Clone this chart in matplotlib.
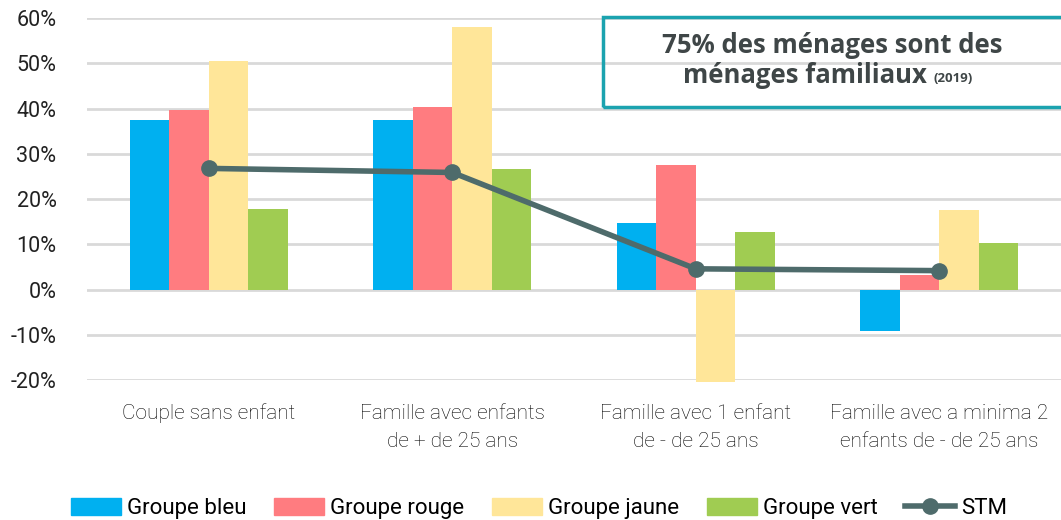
import numpy as np
import matplotlib.pyplot as plt
from matplotlib.patches import Rectangle
from matplotlib.lines import Line2D

# data (%)
categories = ["Couple sans enfant", "Famille avec enfants\nde + de 25 ans",
              "Famille avec 1 enfant\nde - de 25 ans", "Famille avec a minima 2\nenfants de - de 25 ans"]
groupe_bleu = [37.5, 37.5, 14.8, -9.1]
groupe_rouge = [39.8, 40.4, 27.6, 3.3]
groupe_jaune = [50.6, 58.1, -20.4, 17.5]
groupe_vert = [17.9, 26.7, 12.8, 10.4]
stm = [26.8, 25.9, 4.6, 4.2]
series_names = ["Groupe bleu", "Groupe rouge", "Groupe jaune", "Groupe vert"]
colors = ["#00B0F0", "#FF7C80", "#FFE699", "#A0CC52"]
line_color = "#4E6B6B"

plt.rcParams['font.family'] = ['Roboto', 'DejaVu Sans']

fig = plt.figure(figsize=(10.61, 5.2), dpi=100)
ax = fig.add_axes([0.082, 0.269, 0.918, 0.696])

x = np.arange(len(categories))
w = 0.162
for i, (vals, c, name) in enumerate(zip([groupe_bleu, groupe_rouge, groupe_jaune, groupe_vert], colors, series_names)):
    ax.bar(x + (i - 1.5) * w, vals, width=w, color=c, label=name, zorder=2, clip_on=False)

ax.plot(x, stm, color=line_color, lw=4, marker='o', ms=11, label="STM", zorder=3)

ax.set_xlim(-0.5, 3.5)
ax.set_ylim(-20, 60)
ax.set_yticks(range(-20, 61, 10))
ax.set_yticklabels([f"{v}%" for v in range(-20, 61, 10)], fontsize=15.5, color="#222222")
ax.yaxis.grid(True, color="#D9D9D9", lw=2, zorder=0)
ax.tick_params(axis='y', length=0, pad=22)
ax.set_xticks(x)
ax.set_xticklabels(categories, fontsize=15, color="#000000", linespacing=1.6, fontweight='light')
ax.tick_params(axis='x', length=0, pad=17)
for s in ax.spines.values():
    s.set_visible(False)

# annotation box
box = Rectangle((0.568, 0.794), 0.44, 0.173, transform=fig.transFigure, fill=False,
                edgecolor="#1BA3AF", lw=2.5, zorder=5)
fig.patches.append(box)
title_font = ['Open Sans', 'DejaVu Sans']
fig.text(0.784, 0.913, "75% des ménages sont des", ha='center', va='center',
         fontsize=18.5, fontweight='bold', color="#3F4647", family=title_font)
fig.text(0.874, 0.854, "ménages familiaux", ha='right', va='center',
         fontsize=18.5, fontweight='bold', color="#3F4647", family=title_font)
fig.text(0.880, 0.850, "(2019)", ha='left', va='center',
         fontsize=9.5, fontweight='bold', color="#3F4647", family=title_font)

handles = [Rectangle((0, 0), 1, 1, color=c) for c in colors]
handles.append(Line2D([0], [0], color=line_color, lw=4, marker='o', ms=11))
fig.legend(handles, series_names + ["STM"], loc='lower center', bbox_to_anchor=(0.508, -0.037),
           ncol=5, frameon=False, fontsize=16, handlelength=2.25, handleheight=0.8,
           columnspacing=1.25, handletextpad=0.27)

fig.savefig("out.png", dpi=100)
